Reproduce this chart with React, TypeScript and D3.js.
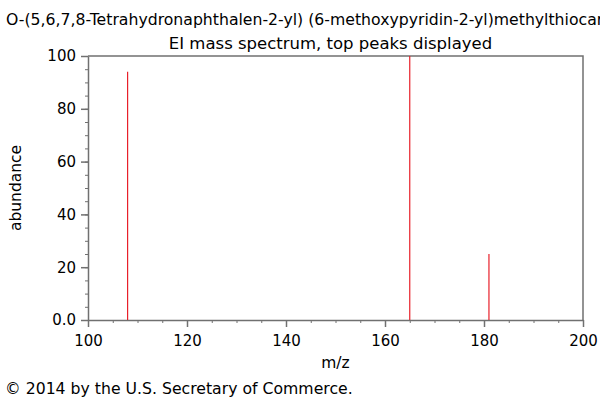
import * as d3 from 'd3';
import { useEffect, useRef } from 'react';

const mz = [108, 165, 181];
const abundance = [94, 100, 25];
const xTicks = [100, 120, 140, 160, 180, 200];
const yTicks = [0, 20, 40, 60, 80, 100];
const yTickLabels = ['0.0', '20', '40', '60', '80', '100'];

const title = 'O-(5,6,7,8-Tetrahydronaphthalen-2-yl) (6-methoxypyridin-2-yl)methylthiocarbamate';
const subtitle = 'EI mass spectrum, top peaks displayed';
const credit = '\u00a9 2014 by the U.S. Secretary of Commerce.';

const SpectrumChart = () => {
  const svgRef = useRef<SVGSVGElement | null>(null);

  useEffect(() => {
    if (!svgRef.current) return;
    const svg = d3.select(svgRef.current);
    svg.selectAll('*').remove();

    const width = 600;
    const height = 400;
    const margin = { top: 56, right: 17, bottom: 80, left: 88 };
    const innerWidth = width - margin.left - margin.right;
    const innerHeight = height - margin.top - margin.bottom;
    const font = 'DejaVu Sans';
    const axisColor = '#707070';

    const x = d3.scaleLinear().domain([100, 200]).range([0, innerWidth]);
    const y = d3.scaleLinear().domain([0, 100]).range([innerHeight, 0]);

    // the long compound name runs past the right edge, as in the original
    svg
      .append('text')
      .attr('x', 6)
      .attr('y', 25)
      .attr('font-family', font)
      .attr('font-size', '15.7px')
      .attr('fill', '#000')
      .text(title);

    svg
      .append('text')
      .attr('x', margin.left + innerWidth / 2 - 5)
      .attr('y', 49)
      .attr('text-anchor', 'middle')
      .attr('font-family', font)
      .attr('font-size', '16.5px')
      .attr('fill', '#000')
      .text(subtitle);

    const chart = svg
      .append('g')
      .attr('transform', `translate(${margin.left},${margin.top})`);

    // frame top and right
    chart
      .append('path')
      .attr('d', `M0,0H${innerWidth}V${innerHeight}`)
      .attr('fill', 'none')
      .attr('stroke', axisColor)
      .attr('stroke-width', 1.5);

    // minor ticks
    const xMinor = d3.range(100, 201, 5);
    const yMinor = d3.range(0, 101, 5);

    chart
      .append('g')
      .attr('transform', `translate(0,${innerHeight})`)
      .call(d3.axisBottom(x).tickValues(xMinor).tickSize(3).tickFormat(() => ''))
      .call((g) => g.select('.domain').remove())
      .selectAll('line')
      .attr('stroke', axisColor);

    chart
      .append('g')
      .call(d3.axisLeft(y).tickValues(yMinor).tickSize(3).tickFormat(() => ''))
      .call((g) => g.select('.domain').remove())
      .selectAll('line')
      .attr('stroke', axisColor);

    const xAxis = chart
      .append('g')
      .attr('transform', `translate(0,${innerHeight})`)
      .call(d3.axisBottom(x).tickValues(xTicks).tickSize(7).tickSizeOuter(0).tickPadding(8));
    xAxis.select('.domain').attr('stroke', axisColor).attr('stroke-width', 1.5);
    xAxis.selectAll('line').attr('stroke', axisColor).attr('stroke-width', 1.5);
    xAxis
      .selectAll('text')
      .attr('font-family', font)
      .attr('font-size', '15px')
      .attr('fill', '#000');

    const yAxis = chart
      .append('g')
      .call(
        d3
          .axisLeft(y)
          .tickValues(yTicks)
          .tickSize(7)
          .tickSizeOuter(0)
          .tickPadding(5)
          .tickFormat((_, i) => yTickLabels[i])
      );
    yAxis.select('.domain').attr('stroke', axisColor).attr('stroke-width', 1.5);
    yAxis.selectAll('line').attr('stroke', axisColor).attr('stroke-width', 1.5);
    yAxis
      .selectAll('text')
      .attr('font-family', font)
      .attr('font-size', '15px')
      .attr('fill', '#000');

    chart
      .selectAll('.peak')
      .data(mz)
      .enter()
      .append('line')
      .attr('class', 'peak')
      .attr('x1', (d) => x(d))
      .attr('x2', (d) => x(d))
      .attr('y1', y(0))
      .attr('y2', (_, i) => y(abundance[i]))
      .attr('stroke', '#e8202a')
      .attr('stroke-width', 1.2);

    chart
      .append('text')
      .attr('x', innerWidth / 2)
      .attr('y', 368 - margin.top)
      .attr('text-anchor', 'middle')
      .attr('font-family', font)
      .attr('font-size', '15.5px')
      .attr('fill', '#000')
      .text('m/z');

    svg
      .append('text')
      .attr('transform', `translate(21,${margin.top + innerHeight / 2}) rotate(-90)`)
      .attr('text-anchor', 'middle')
      .attr('font-family', font)
      .attr('font-size', '15.5px')
      .attr('fill', '#000')
      .text('abundance');

    svg
      .append('text')
      .attr('x', 5)
      .attr('y', 394)
      .attr('font-family', font)
      .attr('font-size', '15.7px')
      .attr('fill', '#000')
      .text(credit);
  }, []);

  return (
    <svg
      ref={svgRef}
      width={600}
      height={400}
      style={{ position: 'absolute', left: 0, top: 0, background: '#fff' }}
    ></svg>
  );
};

export default function App() {
  return <SpectrumChart />;
}
